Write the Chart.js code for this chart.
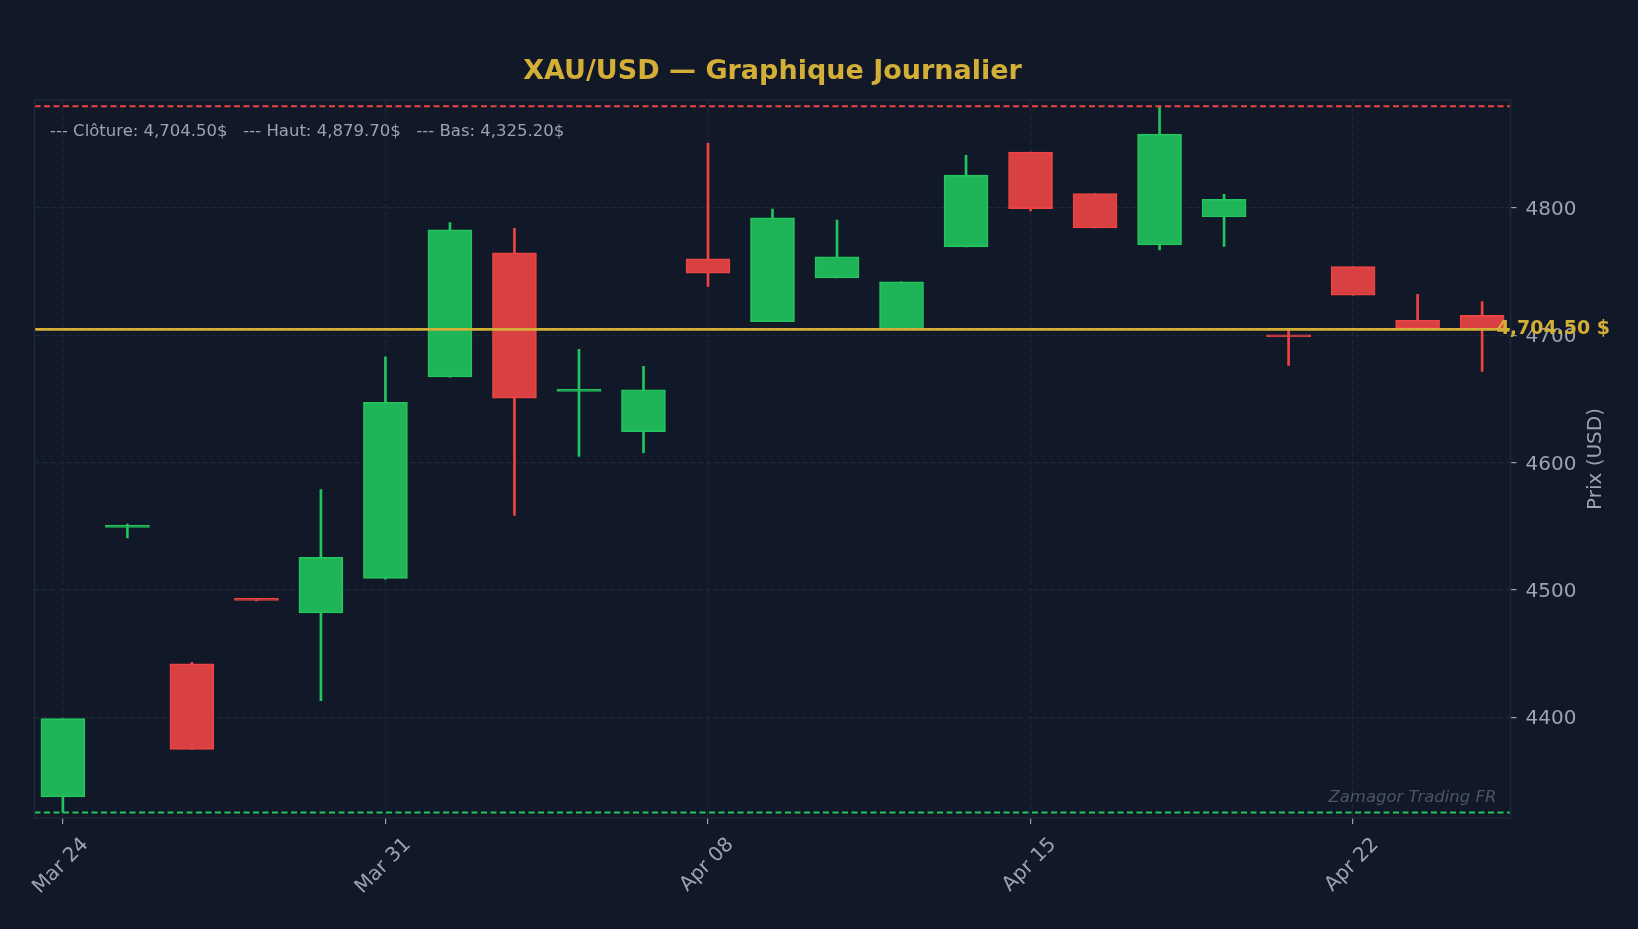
<!DOCTYPE html>
<html>
<head>
<meta charset="utf-8">
<script src="https://cdn.jsdelivr.net/npm/chart.js@4.4.1/dist/chart.umd.min.js"></script>
<style>
  html, body { margin: 0; padding: 0; background: #111827; }
  #wrap { width: 1638px; height: 929px; }
</style>
</head>
<body>
<div id="wrap"><canvas id="c" width="1638" height="929"></canvas></div>
<script>
// ---- Data ----
const dates = ['Mar 24','Mar 25','Mar 26','Mar 27','Mar 30','Mar 31','Apr 01','Apr 02','Apr 06','Apr 07',
               'Apr 08','Apr 09','Apr 10','Apr 13','Apr 14','Apr 15','Apr 16','Apr 17','Apr 20','Apr 21',
               'Apr 22','Apr 23','Apr 24'];
const opens  = [4337.5,4549.0,4441.9,4492.2,4481.9,4509.0,4667.1,4764.6,4655.8,4624.2,
                4759.9,4710.5,4744.8,4704.3,4769.3,4843.7,4811.2,4770.8,4792.8,4699.2,
                4753.8,4711.6,4715.5];
const highs  = [4399.0,4551.6,4443.0,4492.5,4578.7,4683.0,4788.4,4783.8,4688.8,4675.5,
                4850.5,4798.9,4790.3,4741.9,4841.2,4843.7,4811.2,4879.7,4810.5,4703.5,
                4753.8,4732.1,4726.4];
const lows   = [4325.2,4540.8,4374.7,4491.4,4413.0,4508.3,4667.0,4558.5,4604.7,4607.6,
                4738.3,4710.5,4744.8,4704.3,4769.3,4797.5,4784.1,4766.8,4769.7,4676.2,
                4731.4,4705.2,4671.5];
const closes = [4398.9,4550.0,4374.7,4491.7,4525.6,4647.3,4782.7,4650.5,4656.5,4657.0,
                4748.7,4792.1,4761.4,4741.9,4825.6,4799.3,4784.1,4857.8,4806.5,4698.6,
                4731.4,4705.2,4704.5];
const xTickLabels = ['Mar 24','Mar 31','Apr 08','Apr 15','Apr 22'];
const yTicks = [4400, 4500, 4600, 4700, 4800];
const lastClose = 4704.50;
const highMax = 4879.70;
const lowMin = 4325.20;

// ---- Styles ----
const BG = '#111827';
const GRID = '#1f2937';
const TXT = '#9ca3af';
const GOLD = '#d4af37';
const UP = '#22c55e', UP_FILL = 'rgb(32,180,88)';
const DN = '#ef4444', DN_FILL = 'rgb(217,64,65)';

const isUp = closes.map((c, i) => c >= opens[i]);
const fmt = v => v.toLocaleString('en-US', {minimumFractionDigits: 2, maximumFractionDigits: 2});

Chart.defaults.font.family = 'DejaVu Sans';

const overlay = {
  id: 'overlay',
  beforeDraw(chart) {
    const {ctx, width, height} = chart;
    ctx.save();
    ctx.fillStyle = BG;
    ctx.fillRect(0, 0, width, height);
    ctx.restore();
  },
  afterDatasetsDraw(chart) {
    const {ctx, chartArea: a, scales: {y}} = chart;
    ctx.save();
    const hl = (val, color) => {
      const py = y.getPixelForValue(val);
      ctx.beginPath();
      ctx.setLineDash([6, 3.5]);
      ctx.lineWidth = 2;
      ctx.strokeStyle = color;
      ctx.moveTo(a.left, py);
      ctx.lineTo(a.right, py);
      ctx.stroke();
    };
    hl(highMax, DN);
    hl(lowMin, UP);
    const pc = y.getPixelForValue(lastClose);
    ctx.setLineDash([]);
    ctx.beginPath();
    ctx.lineWidth = 2.6;
    ctx.strokeStyle = GOLD;
    ctx.moveTo(a.left, pc);
    ctx.lineTo(a.right, pc);
    ctx.stroke();
    ctx.lineWidth = 1.5;
    ctx.strokeStyle = GRID;
    ctx.strokeRect(a.left, a.top, a.right - a.left, a.bottom - a.top);
    ctx.restore();
  },
  afterDraw(chart) {
    const {ctx, chartArea: a, scales: {y}} = chart;
    ctx.save();
    ctx.fillStyle = GOLD;
    ctx.font = 'bold 27px "DejaVu Sans"';
    ctx.textAlign = 'center';
    ctx.textBaseline = 'middle';
    ctx.fillText('XAU/USD \u2014 Graphique Journalier', (a.left + a.right) / 2, 72);
    ctx.fillStyle = TXT;
    ctx.font = '16.5px "DejaVu Sans"';
    ctx.textAlign = 'left';
    ctx.fillText('--- Cl\u00f4ture: ' + fmt(lastClose) + '$   --- Haut: ' + fmt(highMax) + '$   --- Bas: ' + fmt(lowMin) + '$', a.left + 15.5, 132);
    ctx.fillStyle = GOLD;
    ctx.font = 'bold 19px "DejaVu Sans"';
    ctx.fillText(fmt(lastClose) + ' $', a.right - 14, y.getPixelForValue(lastClose));
    ctx.fillStyle = '#4b5563';
    ctx.font = 'oblique 16.5px "DejaVu Sans"';
    ctx.textAlign = 'right';
    ctx.fillText('Zamagor Trading FR', a.right - 14, 798);
    ctx.fillStyle = TXT;
    ctx.font = '20px "DejaVu Sans"';
    ctx.textAlign = 'center';
    ctx.translate(1596, (a.top + a.bottom) / 2);
    ctx.rotate(-Math.PI / 2);
    ctx.fillText('Prix (USD)', 0, 0);
    ctx.restore();
  }
};

new Chart(document.getElementById('c'), {
  type: 'bar',
  data: {
    datasets: [
      {
        label: 'wick',
        data: dates.map((d, i) => ({x: i, y: [lows[i], highs[i]]})),
        backgroundColor: isUp.map(u => u ? UP : DN),
        borderWidth: 0,
        barThickness: 2,
        grouped: false,
        order: 2
      },
      {
        label: 'body',
        data: dates.map((d, i) => ({x: i, y: [opens[i], closes[i]]})),
        backgroundColor: isUp.map(u => u ? UP_FILL : DN_FILL),
        borderColor: isUp.map(u => u ? UP : DN),
        borderWidth: 1.6,
        borderSkipped: false,
        barThickness: 44,
        minBarLength: 2,
        grouped: false,
        order: 1
      }
    ]
  },
  options: {
    responsive: false,
    animation: false,
    devicePixelRatio: 1,
    layout: { padding: { left: 34.5, top: 100, right: 0, bottom: 0 } },
    plugins: { legend: { display: false }, title: { display: false }, tooltip: { enabled: false } },
    scales: {
      x: {
        type: 'linear',
        min: -0.44,
        max: 22.44,
        offset: false,
        afterBuildTicks(scale) {
          scale.ticks = xTickLabels.map(l => ({value: dates.indexOf(l)}));
        },
        afterFit(scale) { scale.height = 111; },
        ticks: {
          autoSkip: false,
          minRotation: 45,
          maxRotation: 45,
          color: TXT,
          font: { size: 20 },
          padding: 9,
          labelOffset: 22.5,
          callback: v => dates[v]
        },
        grid: {
          offset: false,
          color: GRID,
          lineWidth: 1.2,
          drawTicks: true,
          tickLength: 6,
          tickColor: TXT,
          tickWidth: 1.2,
          tickBorderDash: []
        },
        border: { display: false, dash: [5, 3] }
      },
      y: {
        type: 'linear',
        position: 'right',
        min: 4320.87,
        max: 4884.58,
        afterBuildTicks(scale) {
          scale.ticks = yTicks.map(v => ({value: v}));
        },
        afterFit(scale) { scale.width = 127.5; },
        ticks: {
          color: TXT,
          font: { size: 20 },
          padding: 9,
          labelOffset: 2,
          callback: v => String(v)
        },
        grid: {
          offset: false,
          color: GRID,
          lineWidth: 1.2,
          drawTicks: true,
          tickLength: 6,
          tickColor: TXT,
          tickWidth: 1.2,
          tickBorderDash: []
        },
        border: { display: false, dash: [5, 3] }
      }
    }
  },
  plugins: [overlay]
});
</script>
</body>
</html>
